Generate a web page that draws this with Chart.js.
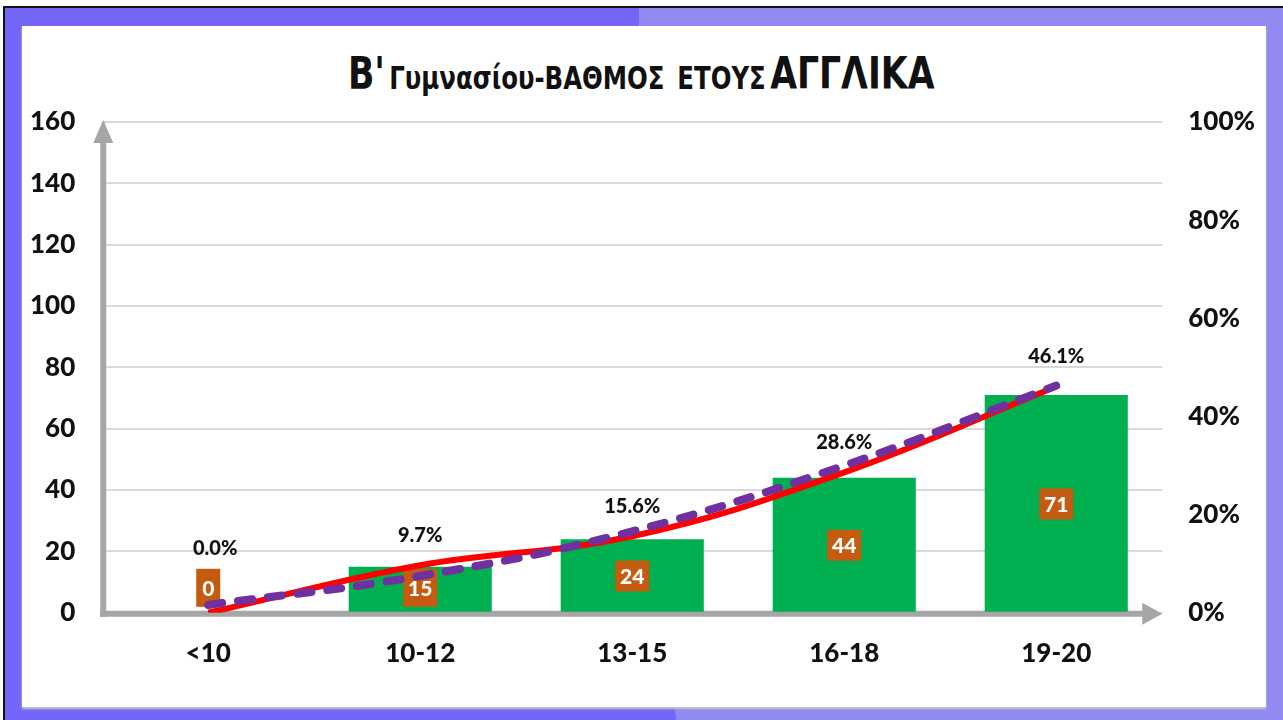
<!DOCTYPE html>
<html>
<head>
<meta charset="utf-8">
<title>Β' Γυμνασίου - ΒΑΘΜΟΣ ΕΤΟΥΣ ΑΓΓΛΙΚΑ</title>
<script src="https://cdn.jsdelivr.net/npm/chart.js@4.4.0/dist/chart.umd.min.js"></script>
<style>
  html, body { margin: 0; padding: 0; background: #fff; overflow: hidden; }
  #frame {
    position: absolute; left: 3px; top: 6px; width: 1280px; height: 714px;
    box-sizing: border-box; border-top: 2px solid #111; border-left: 2px solid #111;
    background: linear-gradient(87deg, #7467f8 0%, #7467f8 51%, #918af0 51%, #918af0 100%);
  }
  #panel {
    position: absolute; left: 22px; top: 26px; width: 1244px; height: 681px;
    background: #fff; box-shadow: 0 2px 2px #c8c8d0;
  }
  #title {
    position: absolute; left: 0; top: 48px; width: 1283px; text-align: center;
    font-family: "DejaVu Sans Condensed", "Open Sans", sans-serif;
    font-weight: 700; color: #111; white-space: nowrap;
  }
  #title .inner { display: inline-block; transform: scaleX(0.875); }
  #title .big { font-size: 44px; }
  #title .mid { font-size: 31px; word-spacing: 5px; }
  #chart { position: absolute; left: 0; top: 0; }
</style>
</head>
<body>
<div id="frame"></div>
<div id="panel"></div>
<div id="title"><span class="inner"><span class="big">Β'</span> <span class="mid">Γυμνασίου-ΒΑΘΜΟΣ ΕΤΟΥΣ</span> <span class="big">ΑΓΓΛΙΚΑ</span></span></div>
<canvas id="chart" width="1283" height="720"></canvas>
<script>
// grade bands and number of students
var categories = ["<10", "10-12", "13-15", "16-18", "19-20"];
var students = [0, 15, 24, 44, 71];
// share of students in each band (%)
var percentages = [0.0, 9.7, 15.6, 28.6, 46.1];
// dashed trend line (%)
var trendValues = [1.6, 7.5, 16.6, 30.0, 46.3];
// axis ranges
var countTicks = { min: 0, max: 160, step: 20 };
var percentTicks = { min: 0, max: 100, step: 20 };

var FONT = "Lato, 'Open Sans', sans-serif";

// grey arrows for the two axes
var axisArrows = {
    id: "axisArrows",
    beforeDatasetsDraw: function (chart) {
        var ctx = chart.ctx;
        var area = chart.chartArea;
        var zeroY = chart.scales.y.getPixelForValue(0);
        ctx.save();
        ctx.strokeStyle = "#a6a6a6";
        ctx.fillStyle = "#a6a6a6";
        ctx.lineWidth = 6;
        // y axis
        ctx.beginPath();
        ctx.moveTo(area.left + 1, zeroY + 4);
        ctx.lineTo(area.left + 1, area.top + 18);
        ctx.stroke();
        ctx.beginPath();
        ctx.moveTo(area.left + 1, area.top - 2);
        ctx.lineTo(area.left - 9, area.top + 21);
        ctx.lineTo(area.left + 11, area.top + 21);
        ctx.closePath();
        ctx.fill();
        // x axis
        ctx.beginPath();
        ctx.moveTo(area.left - 2, zeroY + 1);
        ctx.lineTo(area.right - 16, zeroY + 1);
        ctx.stroke();
        ctx.beginPath();
        ctx.moveTo(area.right, zeroY + 1);
        ctx.lineTo(area.right - 20, zeroY - 10);
        ctx.lineTo(area.right - 20, zeroY + 12);
        ctx.closePath();
        ctx.fill();
        ctx.restore();
    }
};

// orange value boxes inside the bars and percentage labels above the line
var valueLabels = {
    id: "valueLabels",
    afterDatasetDraw: function (chart, args) {
        if (args.index !== 0) return;
        var ctx = chart.ctx;
        var yScale = chart.scales.y;
        var zeroY = yScale.getPixelForValue(0);
        var bars = chart.getDatasetMeta(0).data;
        ctx.save();
        ctx.font = "900 21px " + FONT;
        ctx.textAlign = "center";
        ctx.textBaseline = "middle";
        bars.forEach(function (bar, i) {
            var v = students[i];
            var cy = Math.min(yScale.getPixelForValue(v / 2), zeroY - 25);
            var w = v < 10 ? 24 : 34;
            var h = v < 20 ? 38 : 31;
            ctx.fillStyle = "#c55a11";
            ctx.fillRect(bar.x - w / 2, cy - h / 2, w, h);
            ctx.fillStyle = "#ffffff";
            ctx.fillText(String(v), bar.x, cy + 1);
        });
        ctx.restore();
    },
    afterDatasetsDraw: function (chart) {
        var ctx = chart.ctx;
        var zeroY = chart.scales.y.getPixelForValue(0);
        var points = chart.getDatasetMeta(1).data;
        ctx.save();
        ctx.font = "900 20px " + FONT;
        ctx.textAlign = "center";
        ctx.textBaseline = "middle";
        ctx.fillStyle = "#111111";
        points.forEach(function (p, i) {
            var y = Math.min(p.y - 30, zeroY - 64);
            var x = percentages[i] === 0 ? p.x + 7 : p.x;
            ctx.fillText(percentages[i].toFixed(1) + "%", x, y);
        });
        ctx.restore();
    }
};

document.addEventListener("DOMContentLoaded", function () {
    var ctx = document.getElementById("chart").getContext("2d");

    new Chart(ctx, {
        type: "bar",
        data: {
            labels: categories,
            datasets: [{
                type: "bar",
                label: "Μαθητές",
                data: students,
                backgroundColor: "#00b050",
                borderWidth: 0,
                barPercentage: 0.675,
                categoryPercentage: 1,
                yAxisID: "y",
                order: 3
            }, {
                type: "line",
                label: "Ποσοστό",
                data: percentages,
                borderColor: "#ff0000",
                borderWidth: 6,
                pointRadius: 0,
                tension: 0.4,
                fill: false,
                yAxisID: "y1",
                order: 2
            }, {
                type: "line",
                label: "Τάση",
                data: trendValues,
                borderColor: "#7030a0",
                borderWidth: 8,
                borderDash: [14, 16],
                borderCapStyle: "round",
                pointRadius: 0,
                tension: 0.4,
                fill: false,
                yAxisID: "y1",
                order: 1
            }]
        },
        options: {
            responsive: false,
            animation: false,
            layout: {
                // ticks.padding is counted twice by Chart.js in the axis width
                padding: { left: 3, right: 2, top: 122, bottom: 26 }
            },
            plugins: {
                legend: { display: false },
                tooltip: { enabled: false },
                title: { display: false }
            },
            scales: {
                x: {
                    offset: true,
                    grid: { display: false, drawTicks: false },
                    border: { display: false },
                    ticks: {
                        color: "#111",
                        padding: 25,
                        font: { family: FONT, size: 26, weight: "900" }
                    }
                },
                y: {
                    position: "left",
                    min: countTicks.min,
                    max: countTicks.max,
                    grid: { color: "#d9d9d9", lineWidth: 2, drawTicks: false },
                    border: { display: false },
                    ticks: {
                        stepSize: countTicks.step,
                        color: "#111",
                        padding: 27,
                        font: { family: FONT, size: 26, weight: "900" }
                    }
                },
                y1: {
                    position: "right",
                    min: percentTicks.min,
                    max: percentTicks.max,
                    grid: { display: false, drawTicks: false },
                    border: { display: false },
                    ticks: {
                        stepSize: percentTicks.step,
                        color: "#111",
                        padding: 26,
                        font: { family: FONT, size: 26, weight: "900" },
                        callback: function (value) { return value + "%"; }
                    }
                }
            }
        },
        plugins: [axisArrows, valueLabels]
    });
});
</script>
</body>
</html>
